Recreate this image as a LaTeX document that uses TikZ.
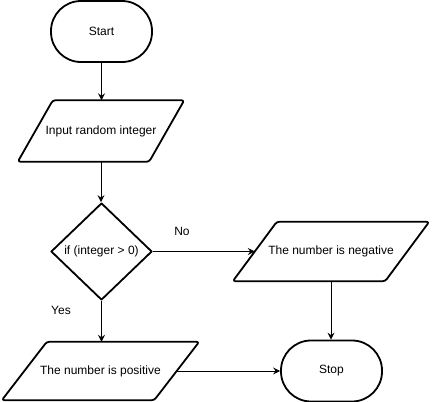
\documentclass[tikz,border=0pt]{standalone}
\usepackage{fontspec}
\setmainfont{Liberation Sans}
\usetikzlibrary{arrows.meta,shapes.geometric}
\begin{document}
\begin{tikzpicture}[x=1pt,y=-1pt,
  every node/.style={font=\fontsize{12}{14}\selectfont, text=black},
  term/.style={draw, line width=1.8pt, rounded corners=30pt, minimum width=101pt, minimum height=61pt, inner sep=0pt},
  box/.style={draw=none, inner sep=0pt},
  shapeline/.style={line width=1.8pt, rounded corners=2.5pt, line join=round},
  dec/.style={diamond, draw, line width=1.8pt, inner sep=0pt, aspect=1.04, line join=round},
  conn/.style={line width=1pt, -{Stealth[length=7pt,width=7pt,inset=2.5pt]}}
]
\useasboundingbox (0,0) rectangle (432,402);

\node[term] (start) at (101.5,31.5) {Start};

\node[box, minimum width=166pt, minimum height=61pt] (in) at (101,131) {Input random integer};
\draw[shapeline] ([xshift=35pt]in.north west) -- (in.north east) -- ([xshift=-35pt]in.south east) -- (in.south west) -- cycle;

\node[dec, minimum width=101pt, minimum height=97pt] (dec) at (101.5,251.5) {if (integer > 0)};

\node[box, minimum width=196pt, minimum height=59pt] (neg) at (331,251.5) {The number is negative};
\draw[shapeline] ([xshift=44pt]neg.north west) -- (neg.north east) -- ([xshift=-44pt]neg.south east) -- (neg.south west) -- cycle;

\node[box, minimum width=197pt, minimum height=58pt] (pos) at (100.5,371) {The number is positive};
\draw[shapeline] ([xshift=45pt]pos.north west) -- (pos.north east) -- ([xshift=-45pt]pos.south east) -- (pos.south west) -- cycle;

\node[term] (stop) at (331.5,371) {Stop};

\node (no) at (182,231) {No};
\node (yes) at (61,310) {Yes};

\draw[conn] (start.south) -- (start.south |- in.north);
\draw[conn] (in.south) -- (in.south |- dec.north);
\draw[conn] (dec.south) -- (dec.south |- pos.north);
\draw[conn] (dec.east) -- ([xshift=22pt]neg.west);
\draw[conn] (neg.south) -- (neg.south |- stop.north);
\draw[conn] ([xshift=-22pt]pos.east) -- (stop.west);
\end{tikzpicture}
\end{document}
